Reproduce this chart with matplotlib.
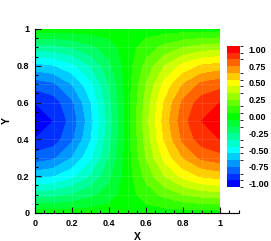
import numpy as np
import matplotlib
matplotlib.use("Agg")
import matplotlib.pyplot as plt
from matplotlib.colors import ListedColormap, BoundaryNorm, LinearSegmentedColormap
from matplotlib.ticker import MultipleLocator

plt.rcParams['font.family'] = ['Liberation Sans', 'DejaVu Sans']
plt.rcParams['font.weight'] = 'bold'

# grid nodes (11 x 11 mesh)
x = [0.0, 0.1, 0.2, 0.3, 0.4, 0.5, 0.6, 0.7, 0.8, 0.9, 1.0]
y = [0.0, 0.1, 0.2, 0.3, 0.4, 0.5, 0.6, 0.7, 0.8, 0.9, 1.0]

# field values, one row per y
z = [
    [0.00, 0.00, 0.00, 0.00, 0.00, 0.00, 0.00, 0.00, 0.00, 0.00, 0.00],
    [-0.31, -0.29, -0.25, -0.18, -0.10, 0.00, 0.10, 0.18, 0.25, 0.29, 0.31],
    [-0.59, -0.56, -0.48, -0.35, -0.18, 0.00, 0.18, 0.35, 0.48, 0.56, 0.59],
    [-0.81, -0.77, -0.65, -0.48, -0.25, 0.00, 0.25, 0.48, 0.65, 0.77, 0.81],
    [-0.95, -0.90, -0.77, -0.56, -0.29, 0.00, 0.29, 0.56, 0.77, 0.90, 0.95],
    [-1.00, -0.95, -0.81, -0.59, -0.31, 0.00, 0.31, 0.59, 0.81, 0.95, 1.00],
    [-0.95, -0.90, -0.77, -0.56, -0.29, 0.00, 0.29, 0.56, 0.77, 0.90, 0.95],
    [-0.81, -0.77, -0.65, -0.48, -0.25, 0.00, 0.25, 0.48, 0.65, 0.77, 0.81],
    [-0.59, -0.56, -0.48, -0.35, -0.18, 0.00, 0.18, 0.35, 0.48, 0.56, 0.59],
    [-0.31, -0.29, -0.25, -0.18, -0.10, 0.00, 0.10, 0.18, 0.25, 0.29, 0.31],
    [0.00, 0.00, 0.00, 0.00, 0.00, 0.00, 0.00, 0.00, 0.00, 0.00, 0.00],
]

# contour levels: 21 bands centred on -1.0 ... 1.0
level_centres = np.round(np.arange(-1.0, 1.0001, 0.1), 2)
bounds = np.concatenate([level_centres - 0.05, [level_centres[-1] + 0.05]])
cbar_ticks = [-1.0, -0.75, -0.5, -0.25, 0.0, 0.25, 0.5, 0.75, 1.0]

base = LinearSegmentedColormap.from_list(
    'tec', [(0, 0, 1), (0, 1, 1), (0, 1, 0), (1, 1, 0), (1, 0, 0)])
cmap = ListedColormap([base((v + 1) / 2) for v in level_centres])
norm = BoundaryNorm(bounds, cmap.N)

fig = plt.figure(figsize=(2.71, 2.41), dpi=100)
ax = fig.add_axes([35 / 271, 28 / 241, 203.5 / 271, 184 / 241])

ax.contourf(x, y, z, levels=bounds, cmap=cmap, norm=norm)
# faint mesh lines
for v in x[1:-1]:
    ax.plot([v, v], [0, 1], color='white', lw=0.5, alpha=0.15)
for v in y[1:-1]:
    ax.plot([0, 1], [v, v], color='white', lw=0.5, alpha=0.15)

ax.set_xlim(0, 1.1)
ax.set_ylim(0, 1)
ax.spines['top'].set_visible(False)
ax.spines['right'].set_visible(False)
ax.set_xticks([0, 0.2, 0.4, 0.6, 0.8, 1.0])
ax.set_xticklabels(['0', '0.2', '0.4', '0.6', '0.8', '1'])
ax.set_yticks([0, 0.2, 0.4, 0.6, 0.8, 1.0])
ax.set_yticklabels(['0', '0.2', '0.4', '0.6', '0.8', '1'])
ax.xaxis.set_minor_locator(MultipleLocator(0.05))
ax.yaxis.set_minor_locator(MultipleLocator(0.05))
ax.tick_params(which='both', direction='in', labelsize=6.5, pad=4, width=0.8)
ax.tick_params(which='major', length=4)
ax.tick_params(which='minor', length=2)
ax.set_xlabel('X', fontsize=7.5, fontweight='bold')
ax.set_ylabel('Y', fontsize=7.5, fontweight='bold')
ax.xaxis.set_label_coords((137 - 35) / 203.5, -(232 - 213) / 184)
ax.yaxis.set_label_coords(-(35 - 12) / 203.5, (213 - 120) / 184)

cax = fig.add_axes([227 / 271, (241 - 187) / 241, 13 / 271, 141 / 241])
sm = plt.cm.ScalarMappable(norm=norm, cmap=cmap)
cb = fig.colorbar(sm, cax=cax, ticks=cbar_ticks)
cb.outline.set_visible(False)
cb.ax.set_yticklabels(['%.2f' % t for t in cbar_ticks])
cb.ax.tick_params(length=0, labelsize=6.5, pad=6)

fig.savefig('out.png', dpi=100)
